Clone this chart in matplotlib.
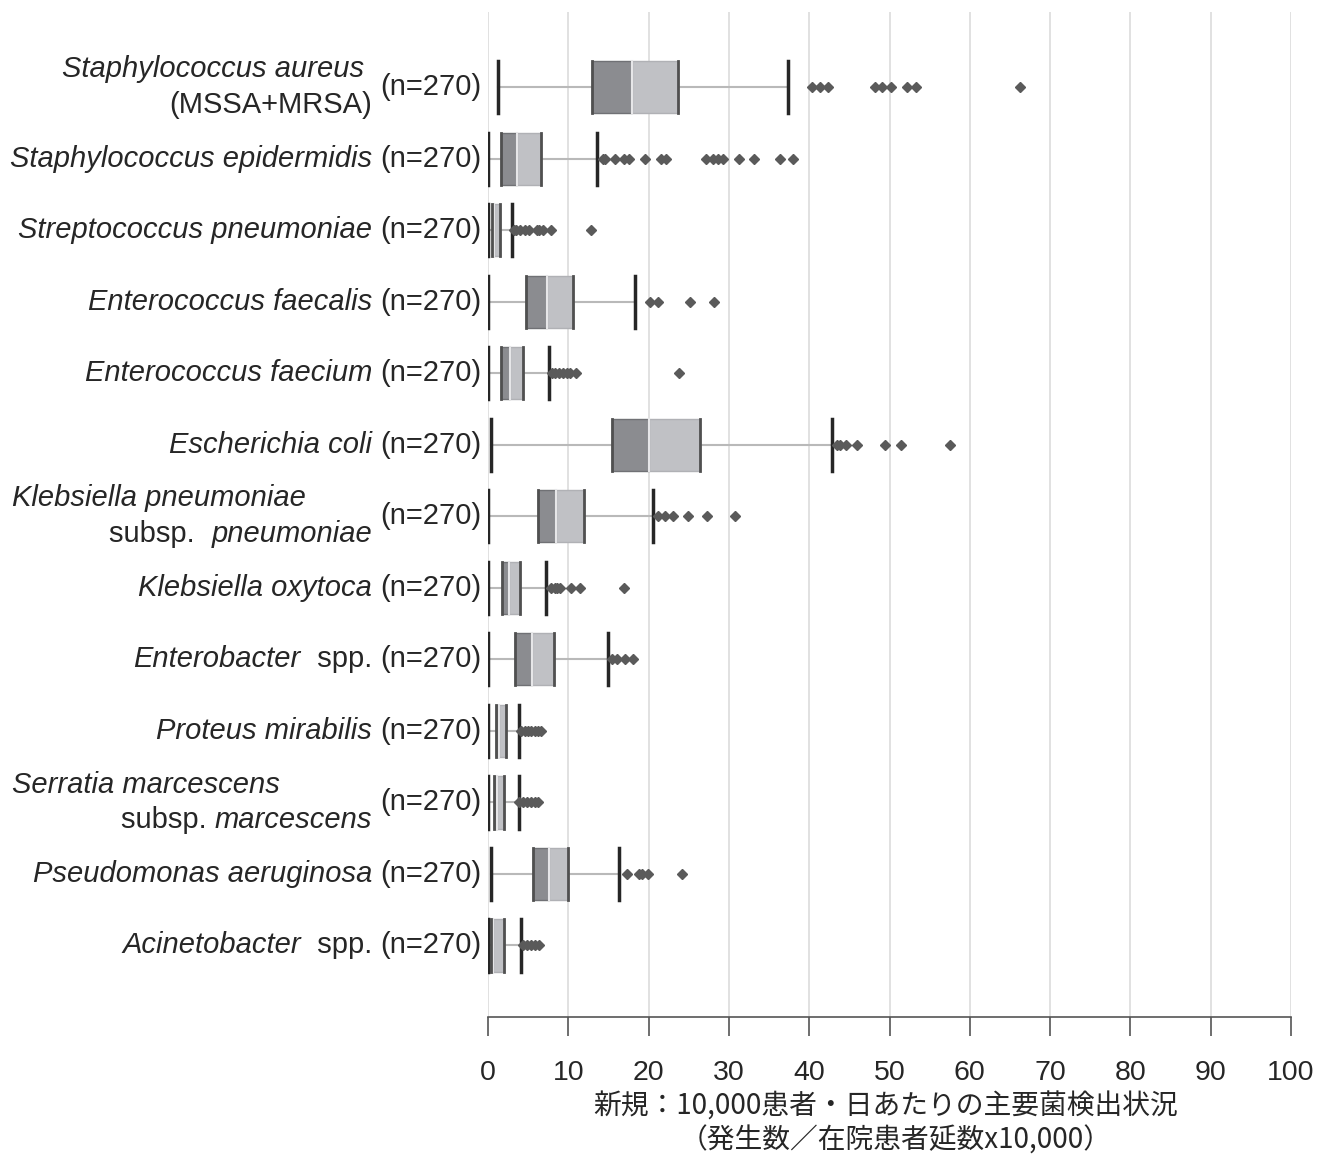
import matplotlib
matplotlib.use("Agg")
import matplotlib.pyplot as plt
import matplotlib.transforms as mtransforms
from matplotlib.patches import Rectangle

# label pieces per line: (text, italic)
labels = [
    [[("Staphylococcus aureus", True)], [("(MSSA+MRSA)", False)]],
    [[("Staphylococcus epidermidis", True)]],
    [[("Streptococcus pneumoniae", True)]],
    [[("Enterococcus faecalis", True)]],
    [[("Enterococcus faecium", True)]],
    [[("Escherichia coli", True)]],
    [[("Klebsiella pneumoniae", True)], [("subsp.  ", False), ("pneumoniae", True)]],
    [[("Klebsiella oxytoca", True)]],
    [[("Enterobacter", True), ("  spp.", False)]],
    [[("Proteus mirabilis", True)]],
    [[("Serratia marcescens", True)], [("subsp. ", False), ("marcescens", True)]],
    [[("Pseudomonas aeruginosa", True)]],
    [[("Acinetobacter", True), ("  spp.", False)]],
]
first_line_left = [False, False, False, False, False, False, True,
                   False, False, False, True, False, False]
n_text = "(n=270)"

whisker_low = [1.2, 0.0, 0.0, 0.0, 0.0, 0.4, 0.0, 0.0, 0.0, 0.0, 0.0, 0.4, 0.0]
q1 = [13.0, 1.6, 0.45, 4.7, 1.6, 15.5, 6.2, 1.7, 3.4, 0.95, 0.7, 5.6, 0.4]
median = [17.9, 3.6, 0.8, 7.4, 2.8, 20.1, 8.5, 2.6, 5.5, 1.4, 1.1, 7.6, 0.65]
q3 = [23.7, 6.6, 1.45, 10.6, 4.3, 26.4, 12.0, 4.0, 8.2, 2.2, 2.0, 10.0, 2.0]
whisker_high = [37.3, 13.6, 2.95, 18.3, 7.6, 42.8, 20.5, 7.2, 14.9, 3.8, 3.8, 16.3, 4.1]
outliers = [
    [40.4, 41.4, 42.3, 48.2, 49.1, 50.2, 52.2, 53.3, 66.2],
    [14.3, 14.6, 15.8, 16.9, 17.6, 19.5, 21.6, 22.2, 27.1, 28.0, 28.7, 29.3,
     31.2, 33.1, 36.4, 38.0],
    [3.2, 3.5, 4.0, 4.6, 5.1, 6.1, 6.4, 6.8, 7.9, 12.8],
    [20.2, 21.2, 25.2, 28.1],
    [8.0, 8.4, 8.9, 9.4, 9.8, 10.2, 11.0, 23.8],
    [43.4, 43.8, 44.6, 45.9, 49.4, 51.4, 57.5],
    [21.2, 22.1, 23.0, 24.9, 27.3, 30.7],
    [7.9, 8.3, 8.6, 9.0, 10.3, 11.5, 16.9],
    [15.5, 16.1, 17.1, 18.0],
    [4.1, 4.6, 5.0, 5.4, 5.8, 6.2, 6.6],
    [3.9, 4.4, 4.9, 5.4, 5.9, 6.2],
    [17.3, 18.8, 19.2, 19.9, 24.2],
    [4.3, 4.8, 5.3, 5.8, 6.3],
]

xticks = list(range(0, 101, 10))
xlabel_lines = ["新規：10,000患者・日あたりの主要菌検出状況",
                "（発生数／在院患者延数x10,000）"]

DARK = "#8b8c90"
LIGHT = "#c0c1c5"
EDGE = "#505050"
WHISK = "#b9b9b9"
CAP = "#262626"
DOT = "#5a5a5a"
TXT = "#262626"

plt.rcParams["font.family"] = ["Liberation Sans", "DejaVu Sans"]

W, H = 1319, 1158
fig = plt.figure(figsize=(W / 100, H / 100), dpi=100)
ax = fig.add_axes([488 / W, 1 - 1017 / H, 803 / W, (1017 - 12) / H])

nrows = len(labels)
half = 0.365
for i in range(nrows):
    y = i
    ax.plot([whisker_low[i], q1[i]], [y, y], color=WHISK, lw=1.5, zorder=2)
    ax.plot([q3[i], whisker_high[i]], [y, y], color=WHISK, lw=1.5, zorder=2)
    ax.add_patch(Rectangle((q1[i], y - half), median[i] - q1[i], 2 * half,
                           facecolor=DARK, edgecolor="#707175", lw=1, zorder=3))
    ax.add_patch(Rectangle((median[i], y - half), q3[i] - median[i], 2 * half,
                           facecolor=LIGHT, edgecolor="#b0b1b5", lw=1, zorder=3))
    ax.plot([median[i], median[i]], [y - half, y + half], color="#e6e6e8", lw=1.5, zorder=4)
    for xv in (q1[i], q3[i]):
        ax.plot([xv, xv], [y - half, y + half], color=EDGE, lw=2, zorder=4)
    for xv in (whisker_low[i], whisker_high[i]):
        ax.plot([xv, xv], [y - half, y + half], color=CAP, lw=2.5, zorder=5)
    ax.plot(outliers[i], [y] * len(outliers[i]), linestyle="none", marker="D",
            ms=4.6, color=DOT, mec=DOT, zorder=5)

ax.set_xlim(0, 100)
ax.set_ylim(nrows, -1.05)
ax.set_xticks(xticks)
ax.set_yticks([])
ax.grid(axis="x", color="#dcdcdc", lw=1.2)
ax.set_axisbelow(True)
for s in ("top", "right", "left"):
    ax.spines[s].set_visible(False)
ax.spines["bottom"].set_color("#555555")
ax.spines["bottom"].set_linewidth(1.2)
ax.tick_params(axis="x", direction="out", length=14, width=1.2, color="#555555",
               labelsize=20.5, labelcolor=TXT, pad=17)

# y labels
trans = mtransforms.blended_transform_factory(fig.transFigure, ax.transData)
renderer = fig.canvas.get_renderer()
fs = 21
x_n = 481 / W
x_sp = 372 / W
x_left = 12 / W


def draw_line(pieces, y, x, align):
    texts = []
    for txt, it in pieces:
        t = ax.text(0, y, txt, transform=trans, fontsize=fs, color=TXT,
                    style="italic" if it else "normal", ha="left", va="center")
        texts.append(t)
    widths = [t.get_window_extent(renderer).width / W for t in texts]
    start = x if align == "left" else x - sum(widths)
    for t, w in zip(texts, widths):
        t.set_x(start)
        start += w


for i, lines in enumerate(labels):
    ax.text(x_n, i, n_text, transform=trans, fontsize=fs, color=TXT,
            ha="right", va="center")
    if len(lines) == 1:
        draw_line(lines[0], i, x_sp, "right")
    else:
        if first_line_left[i]:
            draw_line(lines[0], i - 0.25, x_left, "left")
        else:
            draw_line(lines[0], i - 0.25, 364 / W, "right")
        draw_line(lines[1], i + 0.25, x_sp, "right")

cx = (488 + 1291) / 2 / W
fig.text(cx - 4 / W, 1 - 1107 / H, xlabel_lines[0], ha="center", va="center",
         fontsize=20, color=TXT, family=["Noto Sans CJK JP", "DejaVu Sans"])
fig.text(cx + 6 / W, 1 - 1141 / H, xlabel_lines[1], ha="center", va="center",
         fontsize=20, color=TXT, family=["Noto Sans CJK JP", "DejaVu Sans"])

fig.savefig("out.png", dpi=100)
